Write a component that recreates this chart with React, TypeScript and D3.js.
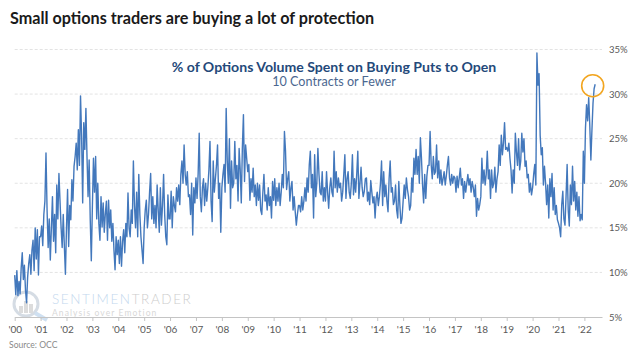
import React, { useRef, useEffect } from 'react';
import * as d3 from 'd3';

// semi-monthly readings (% of volume), 24 per year, 2022 partial
const v2000 = [9.7, 7.5, 10.2, 7.4, 9.0, 7.6, 10.5, 12.2, 9.2, 10.8, 8.0, 6.6, 9.5, 11.0, 12.0, 9.8, 12.5, 13.6, 10.2, 15.0, 11.5, 14.8, 9.7, 14.0];
const v2001 = [14.0, 15.2, 13.0, 16.5, 18.0, 23.4, 17.0, 12.8, 16.0, 11.4, 15.0, 18.5, 13.5, 16.5, 12.2, 19.8, 16.0, 21.1, 18.0, 15.0, 12.8, 16.5, 13.0, 9.8];
const v2002 = [15.0, 19.3, 12.9, 17.5, 15.9, 20.4, 18.0, 21.9, 23.0, 24.5, 21.5, 26.0, 22.0, 29.8, 25.3, 17.8, 26.8, 23.8, 28.4, 23.0, 18.5, 22.6, 16.0, 11.3];
const v2003 = [17.4, 22.8, 19.0, 23.0, 16.0, 20.0, 15.5, 13.6, 18.5, 15.1, 17.8, 14.5, 16.6, 18.0, 13.6, 18.1, 15.0, 17.0, 13.5, 15.5, 12.5, 10.3, 14.0, 12.0];
const v2004 = [13.6, 11.0, 14.0, 10.7, 13.5, 14.8, 12.2, 15.5, 14.0, 18.9, 15.0, 14.0, 17.0, 15.5, 22.5, 17.5, 15.0, 19.0, 14.0, 21.0, 16.5, 14.0, 12.5, 11.0];
const v2005 = [15.0, 17.0, 18.1, 15.0, 16.5, 19.0, 21.1, 16.0, 18.5, 15.5, 17.5, 15.0, 19.8, 17.0, 14.5, 19.5, 15.3, 17.5, 21.0, 16.5, 14.0, 13.1, 18.7, 16.0];
const v2006 = [16.0, 19.1, 15.0, 18.5, 17.5, 16.8, 19.5, 18.0, 19.8, 17.6, 21.0, 22.5, 20.0, 24.3, 21.0, 19.8, 21.3, 18.5, 18.7, 16.5, 20.0, 14.2, 19.5, 17.8];
const v2007 = [20.6, 18.3, 21.0, 25.6, 18.5, 16.8, 19.5, 20.5, 17.5, 20.0, 18.0, 19.5, 21.5, 24.7, 18.0, 15.7, 22.5, 19.0, 20.5, 22.0, 24.3, 18.3, 20.0, 14.5];
const v2008 = [19.5, 21.0, 22.1, 19.0, 28.4, 22.5, 20.0, 25.0, 17.2, 22.5, 19.5, 20.0, 24.7, 20.5, 22.0, 18.0, 23.9, 21.5, 17.8, 24.0, 27.7, 20.2, 24.3, 22.8];
const v2009 = [21.3, 22.1, 18.1, 20.5, 19.0, 21.7, 18.5, 19.8, 17.5, 20.0, 18.1, 19.8, 17.0, 16.5, 19.0, 21.0, 18.0, 18.7, 17.0, 19.5, 17.5, 18.5, 16.1, 20.2];
const v2010 = [18.1, 20.5, 17.5, 19.5, 18.0, 20.0, 17.5, 19.0, 21.0, 19.5, 25.8, 23.6, 19.3, 20.5, 21.3, 18.0, 19.5, 20.2, 17.0, 18.5, 16.8, 15.3, 16.5, 17.5];
const v2011 = [17.5, 16.8, 18.5, 17.0, 18.0, 19.5, 18.0, 20.6, 19.0, 22.0, 23.6, 19.5, 21.0, 16.1, 23.2, 18.5, 20.0, 23.9, 21.0, 19.0, 18.7, 21.3, 18.0, 19.5];
const v2012 = [18.0, 21.3, 19.0, 17.2, 19.5, 20.6, 19.0, 18.5, 23.6, 19.5, 21.3, 19.0, 20.6, 19.5, 20.0, 18.0, 19.0, 21.0, 23.2, 18.3, 20.5, 21.3, 19.0, 18.3];
const v2013 = [20.0, 23.2, 18.7, 20.5, 19.0, 21.0, 23.6, 18.3, 20.0, 21.8, 19.5, 18.5, 19.1, 20.5, 20.6, 18.0, 19.0, 17.6, 20.3, 19.0, 17.8, 18.5, 16.1, 18.3];
const v2014 = [19.0, 17.5, 18.5, 20.0, 22.5, 17.5, 21.3, 18.5, 19.8, 18.0, 16.8, 20.5, 22.5, 19.0, 19.5, 17.6, 18.0, 19.8, 17.0, 16.1, 20.2, 17.5, 15.5, 16.1];
const v2015 = [18.0, 19.8, 18.3, 20.6, 19.3, 18.5, 17.0, 17.5, 20.6, 19.0, 22.8, 21.0, 23.8, 21.0, 23.0, 20.0, 25.1, 22.8, 19.8, 17.8, 21.0, 18.3, 20.8, 22.0];
const v2016 = [22.0, 25.8, 22.1, 20.5, 23.0, 21.0, 21.3, 24.3, 20.6, 22.5, 20.0, 21.5, 19.8, 20.5, 21.3, 19.8, 20.8, 22.0, 23.0, 20.6, 19.8, 21.0, 20.0, 20.8];
const v2017 = [20.6, 19.0, 20.8, 19.5, 20.6, 21.7, 19.8, 20.5, 18.3, 20.2, 19.0, 20.0, 21.0, 19.8, 20.5, 19.0, 20.2, 19.5, 18.5, 19.8, 16.3, 18.3, 17.0, 17.6];
const v2018 = [18.5, 22.8, 20.0, 21.5, 19.8, 21.0, 23.6, 20.5, 21.5, 18.3, 21.5, 19.5, 20.0, 21.8, 19.0, 20.5, 21.3, 24.3, 22.0, 25.4, 23.2, 24.5, 26.8, 23.8];
const v2019 = [24.0, 23.6, 24.5, 22.8, 21.5, 18.9, 21.5, 20.0, 25.6, 23.5, 22.0, 25.0, 21.5, 22.5, 25.6, 23.5, 25.0, 21.9, 22.5, 20.6, 21.0, 19.0, 20.0, 18.7];
const v2020 = [19.5, 21.0, 22.1, 19.8, 34.6, 31.0, 32.3, 25.4, 23.2, 24.0, 19.8, 21.9, 20.0, 17.6, 19.8, 16.1, 20.5, 18.5, 21.1, 17.0, 19.5, 16.5, 17.5, 15.9];
const v2021 = [15.5, 15.0, 14.0, 17.6, 19.1, 16.0, 15.3, 18.5, 22.1, 17.0, 15.2, 19.8, 17.6, 21.9, 18.0, 20.2, 17.0, 19.0, 16.3, 18.5, 15.8, 16.5, 15.9, 23.6];
const v2022 = [20.0, 26.2, 28.8, 27.0, 29.6, 26.5, 22.6, 26.0, 29.0, 30.6, 31.1];

const series = [v2000, v2001, v2002, v2003, v2004, v2005, v2006, v2007, v2008, v2009, v2010, v2011,
  v2012, v2013, v2014, v2015, v2016, v2017, v2018, v2019, v2020, v2021, v2022];
const firstYear = 2000;
const yearTicks = d3.range(2000, 2023);
const pctTicks = [5, 10, 15, 20, 25, 30, 35];

const title = 'Small options traders are buying a lot of protection';
const chartTitle = '% of Options Volume Spent on Buying Puts to Open';
const chartSubtitle = '10 Contracts or Fewer';
const source = 'Source: OCC';

function App() {
  const ref = useRef<SVGSVGElement>(null);
  const width = 639;
  const height = 358;

  useEffect(() => {
    const svg = d3.select(ref.current);
    svg.selectAll('*').remove();

    const data: [number, number][] = series.flatMap((vals, yi) =>
      vals.map((v, i) => [firstYear + yi + i / 24, v] as [number, number]));

    const x = d3.scaleLinear().domain([2000, 2022.68]).range([14.7, 602]);
    const y = d3.scaleLinear().domain([5, 35]).range([317, 49.5]);
    const font = 'Lato, "Open Sans", sans-serif';

    svg.append('text')
      .attr('x', 10).attr('y', 24)
      .attr('font-family', font).attr('font-weight', 700).attr('font-size', 16.2)
      .attr('fill', '#1a1a1a')
      .text(title);

    // gridlines
    svg.append('g')
      .selectAll('line')
      .data(pctTicks.filter((d) => d > 5))
      .join('line')
      .attr('x1', x.range()[0]).attr('x2', x.range()[1])
      .attr('y1', (d) => y(d)).attr('y2', (d) => y(d))
      .attr('stroke', '#e3e3e3').attr('stroke-dasharray', '3,2');

    // watermark
    const wm = svg.append('g');
    wm.append('circle').attr('cx', 26).attr('cy', 304).attr('r', 12)
      .attr('fill', 'none').attr('stroke', '#d5dce4').attr('stroke-width', 3);
    wm.append('line').attr('x1', 35).attr('y1', 313).attr('x2', 47).attr('y2', 320)
      .attr('stroke', '#cfe0f1').attr('stroke-width', 4);
    [[19, 7], [24, 12], [29, 9]].forEach(([bx, bh]) => {
      wm.append('rect').attr('x', bx).attr('y', 313 - bh).attr('width', 4).attr('height', bh).attr('fill', '#dcdcdc');
    });
    const brand = wm.append('text').attr('x', 52).attr('y', 304)
      .attr('font-family', font).attr('font-weight', 300).attr('font-size', 13.5)
      .attr('letter-spacing', 1.6);
    brand.append('tspan').attr('fill', '#c3d8ee').text('SENTIMEN');
    brand.append('tspan').attr('fill', '#cdcdcd').text('TRADER');
    wm.append('text').attr('x', 52).attr('y', 316)
      .attr('font-family', font).attr('font-size', 8.5).attr('letter-spacing', 1.1)
      .attr('fill', '#d8d8d8').text('Analysis over Emotion');

    // x axis
    const xAxis = svg.append('g')
      .attr('transform', `translate(0,${y(5)})`)
      .call(d3.axisBottom(x).tickValues(yearTicks).tickSize(4).tickSizeOuter(0).tickPadding(5)
        .tickFormat((d) => "'" + String((d as number) % 100).padStart(2, '0')));
    xAxis.select('.domain').attr('stroke', '#c4c4c4');
    xAxis.selectAll('.tick line').attr('stroke', '#c4c4c4');
    xAxis.selectAll('.tick text').attr('fill', '#595959').attr('font-family', font).attr('font-size', 10);

    // y axis (right)
    const yAxis = svg.append('g')
      .attr('transform', 'translate(609,0)')
      .call(d3.axisRight(y).tickValues(pctTicks).tickSize(0).tickPadding(0)
        .tickFormat((d) => `${d}%`));
    yAxis.select('.domain').remove();
    yAxis.selectAll('.tick text').attr('fill', '#595959').attr('font-family', font).attr('font-size', 9.5);

    const line = d3.line<[number, number]>()
      .x((d) => x(d[0]))
      .y((d) => y(d[1]));

    svg.append('path')
      .datum(data)
      .attr('d', line)
      .attr('fill', 'none')
      .attr('stroke', '#4378bc')
      .attr('stroke-width', 1.4)
      .attr('stroke-linejoin', 'round');

    const last = data[data.length - 1];
    svg.append('circle')
      .attr('cx', x(last[0]) - 2.5).attr('cy', y(last[1]) + 1.5).attr('r', 11)
      .attr('fill', 'none').attr('stroke', '#f2a51f').attr('stroke-width', 1.6);

    svg.append('text')
      .attr('x', 334).attr('y', 72).attr('text-anchor', 'middle')
      .attr('font-family', font).attr('font-weight', 700).attr('font-size', 14.1)
      .attr('fill', '#24497a')
      .text(chartTitle);
    svg.append('text')
      .attr('x', 334).attr('y', 86).attr('text-anchor', 'middle')
      .attr('font-family', font).attr('font-size', 12.6)
      .attr('fill', '#4b6790')
      .text(chartSubtitle);

    svg.append('text')
      .attr('x', 9).attr('y', 348)
      .attr('font-family', font).attr('font-size', 8.6)
      .attr('fill', '#8a8a8a')
      .text(source);
  }, []);

  return (
    <svg ref={ref} width={width} height={height}
      style={{ position: 'absolute', left: 0, top: 0, background: '#fff' }} />
  );
}

export default App;
